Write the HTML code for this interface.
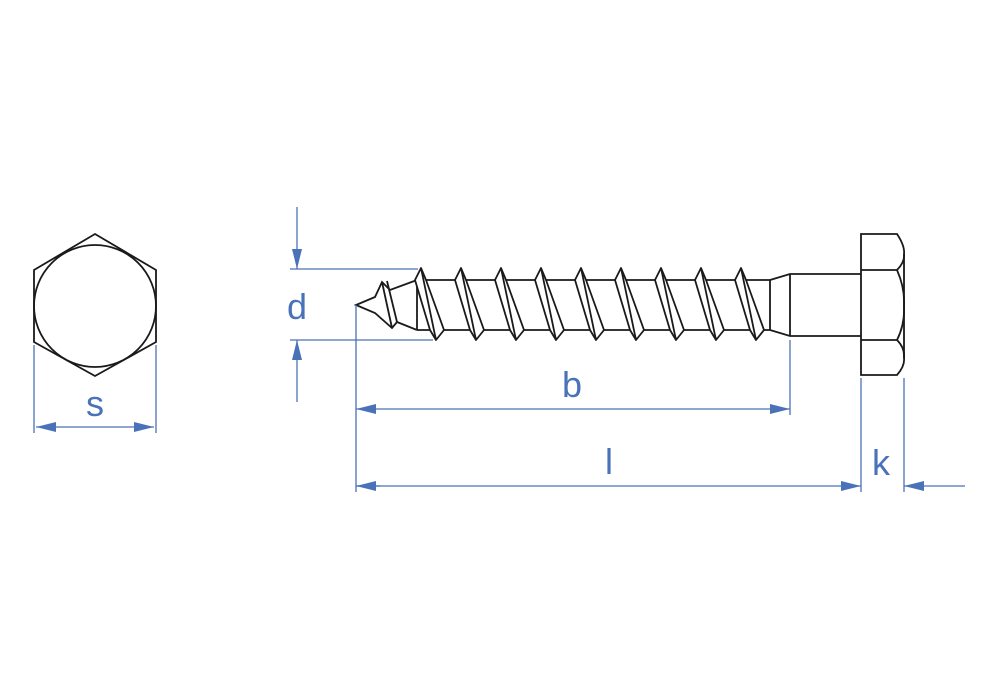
<!DOCTYPE html>
<html><head><meta charset="utf-8"><style>
html,body{margin:0;padding:0;background:#fff;width:1000px;height:700px;overflow:hidden}
text{font-family:"Liberation Sans",sans-serif;fill:#4a72b8;font-size:36px}
</style></head><body>
<svg width="1000" height="700" viewBox="0 0 1000 700" xmlns="http://www.w3.org/2000/svg">
<defs>
<marker id="a" viewBox="0 0 20 10" refX="20" refY="5" markerWidth="20" markerHeight="10" markerUnits="userSpaceOnUse" orient="auto-start-reverse"><path d="M0,0 L20,5 L0,10 z" fill="#4a72b8"/></marker>
</defs>
<g fill="none" stroke="#1a1a1a" stroke-width="1.8">
<polygon points="95,234 156,270 156,342 95,376 34,342 34,270"/>
<circle cx="95" cy="306" r="61"/>
<!-- tip -->
<polyline points="417,280 390,290 382,282 375,297 356,305 375,313 392,328 397,322 417,330"/>
<line x1="382" y1="282" x2="392" y2="328"/>
<line x1="387" y1="281" x2="397" y2="322"/>
<!-- body -->
<line x1="417" y1="280" x2="770" y2="280"/>
<line x1="417" y1="330" x2="770" y2="330"/>
<line x1="417" y1="280" x2="417" y2="330"/>
<line x1="770" y1="280" x2="770" y2="330"/>
<polyline points="770,280 790,274 861,274"/>
<polyline points="770,330 790,336 861,336"/>
<line x1="790" y1="274" x2="790" y2="336"/>
<!-- head -->
<path d="M861,234 L897,234 Q905,246 904,254 L904,358 Q905,366 897,375 L861,375 Z"/>
<path d="M861,270 L897,270 Q905,288 904,306 Q905,324 897,340 L861,340"/>
<path d="M897,270 Q905,262 904,254 M897,340 Q905,348 904,358"/>
</g>
<g fill="#fff" stroke="#1a1a1a" stroke-width="1.8" stroke-linejoin="round">
<g id="t"><polygon points="415,280 421,268 426,280 444,330 436,340 430,330"/><line x1="421" y1="268" x2="436" y2="340"/></g>
<use href="#t" x="40"/><use href="#t" x="80"/><use href="#t" x="120"/><use href="#t" x="160"/><use href="#t" x="200"/><use href="#t" x="240"/><use href="#t" x="280"/><use href="#t" x="320"/>
</g>
<g stroke="#4a72b8" stroke-width="1.3" fill="none">
<line x1="34" y1="345" x2="34" y2="433"/><line x1="156" y1="345" x2="156" y2="433"/>
<line x1="36" y1="427" x2="154" y2="427" marker-start="url(#a)" marker-end="url(#a)"/>
<line x1="290" y1="269" x2="418" y2="269"/><line x1="290" y1="340" x2="433" y2="340"/>
<line x1="297" y1="207" x2="297" y2="269" marker-end="url(#a)"/>
<line x1="297" y1="402" x2="297" y2="340" marker-end="url(#a)"/>
<line x1="356" y1="305" x2="356" y2="492"/>
<line x1="790" y1="340" x2="790" y2="415"/>
<line x1="356" y1="409" x2="790" y2="409" marker-start="url(#a)" marker-end="url(#a)"/>
<line x1="356" y1="486" x2="861" y2="486" marker-end="url(#a)"/>
<line x1="356" y1="486" x2="380" y2="486" marker-start="url(#a)"/>
<line x1="861" y1="378" x2="861" y2="492"/><line x1="904" y1="378" x2="904" y2="492"/>
<line x1="965" y1="486" x2="904" y2="486" marker-end="url(#a)"/>
</g>
<text x="95" y="416" text-anchor="middle">s</text>
<text x="297" y="319" text-anchor="middle">d</text>
<text x="572" y="397" text-anchor="middle">b</text>
<text x="609" y="474" text-anchor="middle">l</text>
<text x="881" y="475" text-anchor="middle">k</text>
</svg>
</body></html>
